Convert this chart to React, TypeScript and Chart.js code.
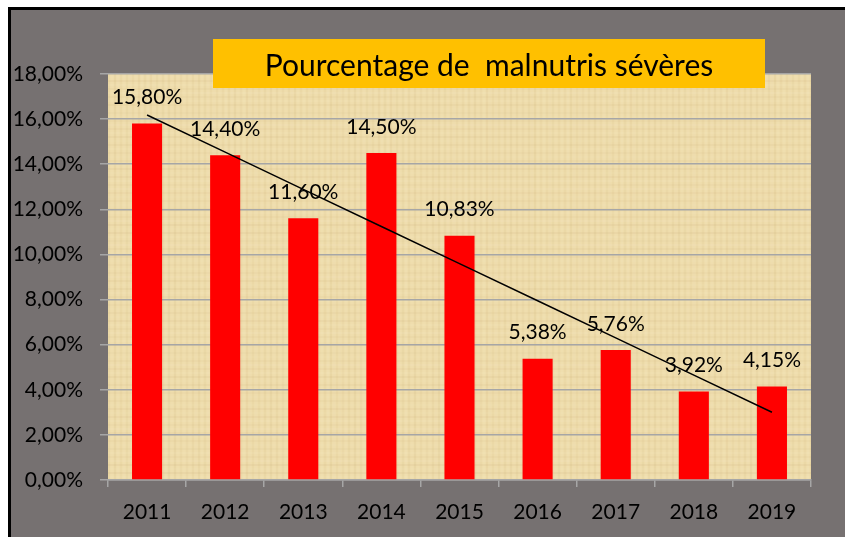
import React, { useEffect, useRef } from "react";
import { Chart, registerables } from "chart.js";

Chart.register(...registerables);

const categories = ["2011", "2012", "2013", "2014", "2015", "2016", "2017", "2018", "2019"];
const values = [15.8, 14.4, 11.6, 14.5, 10.83, 5.38, 5.76, 3.92, 4.15];
const yTicks = [0, 2, 4, 6, 8, 10, 12, 14, 16, 18];
const titleText = "Pourcentage de  malnutris sévères";

const fmt = (v: number) => v.toFixed(2).replace(".", ",") + "%";

function linearTrend(ys: number[]): number[] {
  const n = ys.length;
  const xs = ys.map((_, i) => i + 1);
  const mx = xs.reduce((a, b) => a + b, 0) / n;
  const my = ys.reduce((a, b) => a + b, 0) / n;
  let sxy = 0, sxx = 0;
  for (let i = 0; i < n; i++) {
    sxy += (xs[i] - mx) * (ys[i] - my);
    sxx += (xs[i] - mx) * (xs[i] - mx);
  }
  const b = sxy / sxx;
  const a = my - b * mx;
  return xs.map((x) => a + b * x);
}

function makePapyrus(): CanvasPattern | string {
  const c = document.createElement("canvas");
  c.width = 240;
  c.height = 240;
  const g = c.getContext("2d");
  if (!g) return "#ecdaa9";
  g.fillStyle = "#eedcab";
  g.fillRect(0, 0, 240, 240);
  for (let x = 0; x < 240; x += 3) {
    const a = 0.05 + 0.05 * Math.abs(Math.sin(x * 0.37) * Math.cos(x * 0.11));
    g.fillStyle = (x % 2 === 0 ? "rgba(190,160,100," : "rgba(255,245,215,") + a + ")";
    g.fillRect(x, 0, 2, 240);
  }
  for (let y = 0; y < 240; y += 4) {
    const a = 0.04 + 0.05 * Math.abs(Math.sin(y * 0.29) * Math.cos(y * 0.07));
    g.fillStyle = (y % 8 === 0 ? "rgba(185,150,95," : "rgba(255,248,225,") + a + ")";
    g.fillRect(0, y, 240, 2);
  }
  return g.createPattern(c, "repeat") || "#ecdaa9";
}

export default function App() {
  const ref = useRef<HTMLCanvasElement | null>(null);

  useEffect(() => {
    if (!ref.current) return;
    const papyrus = makePapyrus();
    const trend = linearTrend(values);

    const framePlugin = {
      id: "frame",
      beforeDraw(chart: any) {
        const { ctx, width, height, chartArea } = chart;
        ctx.save();
        ctx.fillStyle = "#ffffff";
        ctx.fillRect(0, 0, width, height);
        ctx.fillStyle = "#000000";
        ctx.fillRect(8, 7, width - 8, height - 7);
        ctx.fillStyle = "#767171";
        ctx.fillRect(11, 10, width - 11, height - 10);
        ctx.fillStyle = papyrus;
        ctx.fillRect(chartArea.left, chartArea.top, chartArea.right - chartArea.left, chartArea.bottom - chartArea.top);
        ctx.restore();
      },
      afterDatasetDraw(chart: any, args: any) {
        if (args.index !== 0) return;
        const { ctx } = chart;
        const meta = chart.getDatasetMeta(0);
        ctx.save();
        ctx.font = "21px Lato";
        ctx.fillStyle = "#000000";
        ctx.textAlign = "center";
        ctx.textBaseline = "middle";
        meta.data.forEach((bar: any, i: number) => {
          ctx.fillText(fmt(values[i]), bar.x, bar.y - 26);
        });
        ctx.restore();
      },
      afterDraw(chart: any) {
        const { ctx } = chart;
        ctx.save();
        ctx.fillStyle = "#ffc000";
        ctx.fillRect(213, 39, 552, 49);
        ctx.fillStyle = "#000000";
        ctx.font = "30px Lato";
        ctx.textAlign = "center";
        ctx.textBaseline = "middle";
        ctx.fillText(titleText, 489, 66);
        ctx.restore();
      },
    };

    const chart = new Chart(ref.current, {
      type: "bar",
      data: {
        labels: categories,
        datasets: [
          {
            type: "bar",
            data: values,
            backgroundColor: "#ff0000",
            borderWidth: 0,
            barPercentage: 0.385,
            categoryPercentage: 1,
            order: 2,
          },
          {
            type: "line",
            data: trend,
            borderColor: "#000000",
            borderWidth: 1.5,
            pointRadius: 0,
            fill: false,
            tension: 0,
            order: 1,
          } as any,
        ],
      },
      options: {
        responsive: false,
        animation: false,
        events: [],
        layout: { padding: { left: 10, top: 74, right: 34, bottom: 0 } },
        plugins: {
          legend: { display: false },
          tooltip: { enabled: false },
          title: { display: false },
        },
        scales: {
          x: {
            offset: true,
            afterFit(scale: any) {
              scale.height = 57;
            },
            grid: {
              offset: true,
              drawOnChartArea: false,
              drawTicks: true,
              tickLength: 7,
              color: "#a6a6a6",
              lineWidth: 1.5,
            },
            border: { display: true, color: "#a6a6a6", width: 1.5 },
            ticks: {
              color: "#000000",
              font: { family: "Lato", size: 21 },
              padding: 13,
              maxRotation: 0,
              autoSkip: false,
            },
          },
          y: {
            min: 0,
            max: 18,
            afterFit(scale: any) {
              scale.width = 98;
            },
            afterBuildTicks(scale: any) {
              scale.ticks = yTicks.map((v) => ({ value: v }));
            },
            grid: {
              color: "#a6a6a6",
              lineWidth: 1.5,
              drawTicks: true,
              tickLength: 8,
            },
            border: { display: false },
            ticks: {
              color: "#000000",
              font: { family: "Lato", size: 21 },
              padding: 17,
              callback: (v: any) => fmt(Number(v)),
            },
          },
        },
      },
      plugins: [framePlugin],
    });

    return () => chart.destroy();
  }, []);

  return (
    <div style={{ position: "absolute", left: 0, top: 0, width: 845, height: 537 }}>
      <canvas ref={ref} width={845} height={537} style={{ display: "block", width: 845, height: 537 }} />
    </div>
  );
}
